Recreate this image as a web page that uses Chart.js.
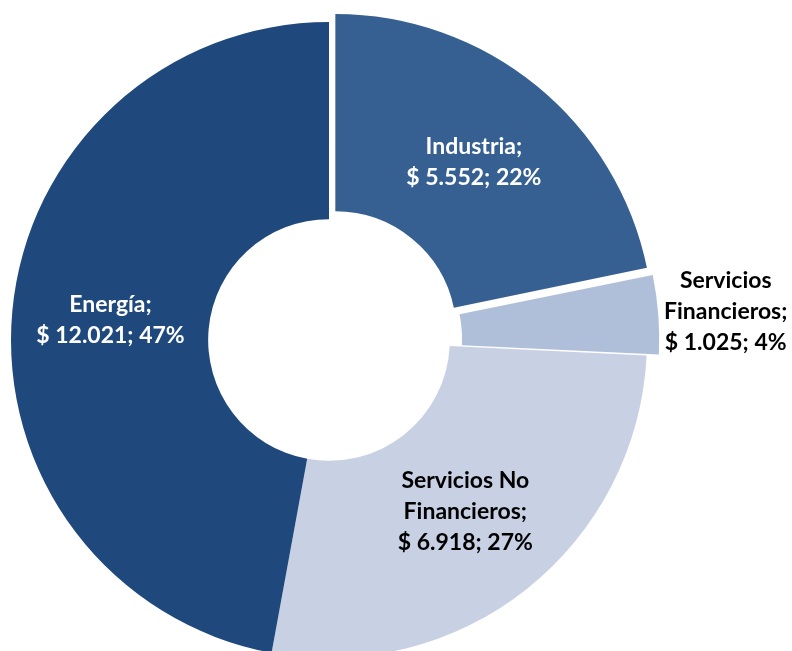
<!DOCTYPE html>
<html>
<head>
<meta charset="utf-8">
<script src="https://cdn.jsdelivr.net/npm/chart.js@4.4.1/dist/chart.umd.min.js"></script>
<style>
  html, body { margin: 0; padding: 0; background: #fff; overflow: hidden; }
  #wrap { position: absolute; left: 0; top: 0; width: 792px; height: 700px; }
</style>
</head>
<body>
<div id="wrap"><canvas id="myChart" width="792" height="700"></canvas></div>
<script>
// datos del gráfico
const sectores = ['Industria', 'Servicios Financieros', 'Servicios No Financieros', 'Energía'];
const montos = [5552, 1025, 6918, 12021];
const porcentajes = ['22%', '4%', '27%', '47%'];
const etiquetas = [
    ['Industria;', '$ 5.552; 22%'],
    ['Servicios', 'Financieros;', '$ 1.025; 4%'],
    ['Servicios No', 'Financieros;', '$ 6.918; 27%'],
    ['Energía;', '$ 12.021; 47%']
];

const colores = ['#376092', '#B0BFD9', '#C8D0E3', '#1F497D'];
const coloresTexto = ['#ffffff', '#000000', '#000000', '#ffffff'];
// chart.js divide el offset por 4 al dibujar
const desplazamiento = [40, 28, 0, 0];
const fuera = [false, true, false, false];

// etiquetas dentro / fuera de los sectores
const etiquetasPlugin = {
    id: 'etiquetas',
    afterDatasetsDraw(chart) {
        const ctx = chart.ctx;
        const meta = chart.getDatasetMeta(0);
        ctx.save();
        ctx.font = 'bold 23px Lato';
        ctx.textAlign = 'center';
        ctx.textBaseline = 'middle';
        meta.data.forEach((arc, i) => {
            const lines = etiquetas[i];
            const a = (arc.startAngle + arc.endAngle) / 2;
            const off = desplazamiento[i] / 4;
            const r = (arc.innerRadius + arc.outerRadius) / 2 + off;
            let x = arc.x + Math.cos(a) * r;
            let y = arc.y + Math.sin(a) * r;
            if (fuera[i]) {
                const w = Math.max(...lines.map(l => ctx.measureText(l).width));
                x = arc.x + arc.outerRadius + off + 10 + w / 2;
                y = y - 11;
            }
            const lh = 31;
            const y0 = y - (lines.length - 1) * lh / 2;
            ctx.fillStyle = coloresTexto[i];
            lines.forEach((l, k) => ctx.fillText(l, x, y0 + k * lh));
        });
        ctx.restore();
    }
};

const ctx = document.getElementById('myChart');
new Chart(ctx, {
    type: 'doughnut',
    data: {
        labels: sectores,
        datasets: [{
            data: montos,
            backgroundColor: colores,
            borderWidth: 0,
            offset: desplazamiento,
            clip: false
        }]
    },
    options: {
        responsive: false,
        animation: false,
        radius: 318,
        cutout: '38%',
        layout: { padding: { left: 0, right: 134, top: 0, bottom: 20 } },
        plugins: {
            legend: { display: false },
            tooltip: { enabled: false }
        }
    },
    plugins: [etiquetasPlugin]
});
</script>
</body>
</html>
